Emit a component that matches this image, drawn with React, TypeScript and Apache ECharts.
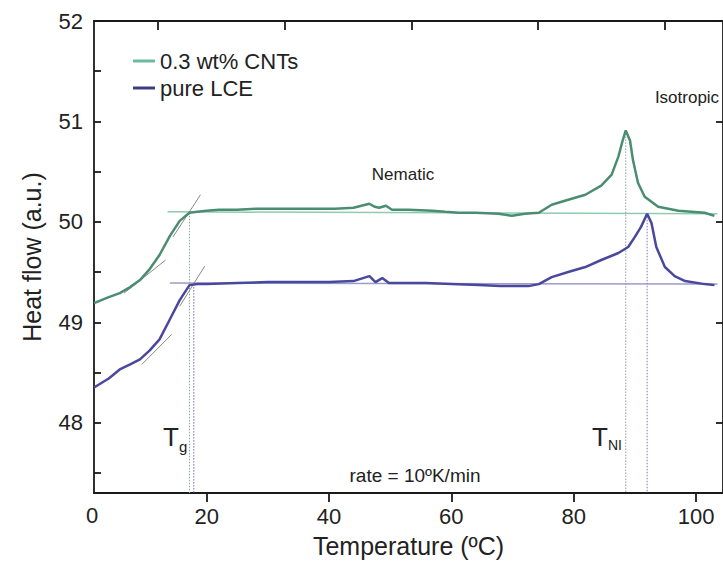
import React, { useEffect, useRef } from "react";
import * as echarts from "echarts";

// ---- data ----
const cntX = [1.6, 4.0, 5.8, 7.5, 9.1, 10.7, 12.3, 14.0, 15.6, 17.2, 18.5, 20, 22, 25, 28, 31, 35, 38, 41, 44, 46.6, 47.5, 48.2, 49.3, 50.3, 53, 56.9, 59, 61.2, 64, 67.7, 69.9, 72, 74.3, 76.4, 79.1, 81.9, 84.5, 86.2, 87.3, 88.0, 88.5, 89.2, 89.7, 90.5, 91.6, 93.8, 97.1, 101.4, 103.0];
const cntY = [49.19, 49.25, 49.29, 49.35, 49.42, 49.53, 49.67, 49.86, 50.01, 50.09, 50.1, 50.11, 50.12, 50.12, 50.13, 50.13, 50.13, 50.13, 50.13, 50.14, 50.18, 50.15, 50.14, 50.16, 50.12, 50.12, 50.11, 50.1, 50.09, 50.09, 50.08, 50.06, 50.08, 50.09, 50.17, 50.22, 50.27, 50.36, 50.47, 50.65, 50.81, 50.91, 50.81, 50.61, 50.39, 50.25, 50.15, 50.11, 50.09, 50.06];

const lceX = [1.6, 4.0, 5.8, 7.5, 9.1, 10.7, 12.3, 14.0, 15.6, 17.2, 18.5, 20, 25, 30, 35, 40, 44, 46.6, 47.6, 48.7, 49.8, 55.8, 60, 64.5, 68, 72.6, 74.3, 76.4, 79.1, 81.9, 84.5, 87.3, 88.9, 90.0, 91.0, 92.0, 92.7, 93.5, 94.9, 96.5, 98.2, 101.4, 103.0];
const lceY = [48.35, 48.44, 48.53, 48.58, 48.63, 48.72, 48.83, 49.03, 49.22, 49.37, 49.38, 49.38, 49.39, 49.4, 49.4, 49.4, 49.41, 49.46, 49.4, 49.44, 49.39, 49.39, 49.38, 49.37, 49.36, 49.36, 49.38, 49.45, 49.5, 49.55, 49.62, 49.69, 49.75, 49.85, 49.95, 50.08, 49.99, 49.75, 49.55, 49.46, 49.41, 49.38, 49.37];

// baselines
const cntBaseX = [13.6, 103.5];
const cntBaseY = [50.1, 50.08];
const lceBaseX = [14.0, 103.5];
const lceBaseY = [49.39, 49.38];

// tangent construction lines
const cntTanLowX = [6.5, 13.3];
const cntTanLowY = [49.29, 49.62];
const cntTanHighX = [14.5, 19.0];
const cntTanHighY = [49.85, 50.27];
const lceTanLowX = [9.4, 14.3];
const lceTanLowY = [48.58, 48.88];
const lceTanHighX = [15.6, 19.7];
const lceTanHighY = [49.16, 49.56];

// transition markers (x position, top value)
const tgCntX = 17.2;
const tgCntTop = 50.09;
const tgLceX = 17.9;
const tgLceTop = 49.38;
const tniCntX = 88.5;
const tniCntTop = 50.91;
const tniLceX = 92.0;
const tniLceTop = 50.08;

// axes
const X_MIN = 1.59;
const X_MAX = 104.4;
const Y_MIN = 47.3;
const Y_MAX = 52;
const xTickLabels = [20, 40, 60, 80, 100];
const xTopTicks = [12.0, 32.7, 53.5, 74.2, 94.9];
const yTickValues = [47.5, 48, 48.5, 49, 49.5, 50, 50.5, 51, 51.5, 52];
const yTickLabels = [48, 49, 50, 51, 52];
const yRightTicks = [48, 49, 50, 51, 52];

const FONT = "'Liberation Sans', Arial, Helvetica, sans-serif";
const TXT = "#222";
const AX = "#1a1a1a";

const zip = (xs: number[], ys: number[]) => xs.map((x, i) => [x, ys[i]]);

export default function App() {
  const ref = useRef<HTMLDivElement>(null);
  useEffect(() => {
    if (!ref.current) return;
    const chart = echarts.init(ref.current, undefined, { renderer: "svg" });
    const thin = (name: string, xs: number[], ys: number[], color: string, width = 1, type: any = "solid") => ({
      name,
      type: "line",
      data: zip(xs, ys),
      showSymbol: false,
      symbol: "none",
      silent: true,
      lineStyle: { color, width, type },
      z: 1,
    });
    const option: any = {
      animation: false,
      backgroundColor: "#fff",
      grid: { left: 94, right: -2, top: 21, bottom: 71, containLabel: false },
      legend: {
        orient: "vertical",
        left: 128,
        top: 44,
        icon: "rect",
        itemWidth: 22,
        itemHeight: 3,
        itemGap: 3,
        selectedMode: false,
        textStyle: { fontSize: 22, color: TXT, fontFamily: FONT, lineHeight: 24 },
        data: [
          { name: "0.3 wt% CNTs", itemStyle: { color: "#6dbb9e" } },
          { name: "pure LCE", itemStyle: { color: "#3f3d80" } },
        ],
      },
      xAxis: [
        {
          type: "value",
          position: "bottom",
          min: X_MIN,
          max: X_MAX,
          name: "Temperature (ºC)",
          nameLocation: "middle",
          nameGap: 40,
          nameTextStyle: { fontSize: 25, color: TXT, fontFamily: FONT },
          axisLine: { show: true, lineStyle: { color: AX, width: 1.8 } },
          axisTick: { show: true, customValues: xTickLabels, length: 9, lineStyle: { color: AX, width: 1.8 } },
          axisLabel: { customValues: xTickLabels, fontSize: 22, color: TXT, fontFamily: FONT, margin: 12 },
          splitLine: { show: false },
        },
        {
          type: "value",
          position: "top",
          min: X_MIN,
          max: X_MAX,
          axisLine: { show: true, lineStyle: { color: AX, width: 1.8 } },
          axisTick: { show: true, inside: true, customValues: xTopTicks, length: 9, lineStyle: { color: AX, width: 1.8 } },
          axisLabel: { show: false },
          splitLine: { show: false },
        },
      ],
      yAxis: [
        {
          type: "value",
          position: "left",
          min: Y_MIN,
          max: Y_MAX,
          name: "Heat flow (a.u.)",
          nameLocation: "middle",
          nameGap: 50,
          nameTextStyle: { fontSize: 25, color: TXT, fontFamily: FONT },
          axisLine: { show: true, lineStyle: { color: AX, width: 1.8 } },
          axisTick: { show: true, inside: true, customValues: yTickValues, length: 7, lineStyle: { color: AX, width: 1.8 } },
          axisLabel: { customValues: yTickLabels, fontSize: 22, color: TXT, fontFamily: FONT, margin: 11 },
          splitLine: { show: false },
        },
        {
          type: "value",
          position: "right",
          min: Y_MIN,
          max: Y_MAX,
          axisLine: { show: true, lineStyle: { color: AX, width: 1.8 } },
          axisTick: { show: true, inside: true, customValues: yRightTicks, length: 7, lineStyle: { color: AX, width: 1.8 } },
          axisLabel: { show: false },
          splitLine: { show: false },
        },
      ],
      series: [
        thin("cntBase", cntBaseX, cntBaseY, "#8fcab2", 1.5),
        thin("lceBase", lceBaseX, lceBaseY, "#9d9bc9", 1.5),
        thin("t1", cntTanLowX, cntTanLowY, "#8a8a8a", 1),
        thin("t2", cntTanHighX, cntTanHighY, "#8a8a8a", 1),
        thin("t3", lceTanLowX, lceTanLowY, "#8a8a8a", 1),
        thin("t4", lceTanHighX, lceTanHighY, "#8a8a8a", 1),
        thin("d1", [tgCntX, tgCntX], [tgCntTop, Y_MIN], "#8fa89c", 1, [1.5, 1.5]),
        thin("d2", [tgLceX, tgLceX], [tgLceTop, Y_MIN], "#6f6fb5", 1, [1.5, 1.5]),
        thin("d3", [tniCntX, tniCntX], [tniCntTop, Y_MIN], "#8fa0a0", 1, [1.5, 1.5]),
        thin("d4", [tniLceX, tniLceX], [tniLceTop, Y_MIN], "#7b7bb0", 1, [1.5, 1.5]),
        {
          name: "0.3 wt% CNTs",
          type: "line",
          data: zip(cntX, cntY),
          showSymbol: false,
          symbol: "none",
          lineStyle: { color: "#4b8d70", width: 2.5 },
          itemStyle: { color: "#4b8d70" },
          z: 3,
        },
        {
          name: "pure LCE",
          type: "line",
          data: zip(lceX, lceY),
          showSymbol: false,
          symbol: "none",
          lineStyle: { color: "#4a489c", width: 2.5 },
          itemStyle: { color: "#4a489c" },
          z: 3,
        },
      ],
      graphic: [
        { type: "text", x: 92, y: 515, style: { text: "0", fontSize: 22, fill: TXT, fontFamily: FONT, align: "center", verticalAlign: "middle" } },
        { type: "text", x: 403, y: 174, style: { text: "Nematic", fontSize: 17, fill: TXT, fontFamily: FONT, align: "center", verticalAlign: "middle" } },
        { type: "text", x: 687, y: 97, style: { text: "Isotropic", fontSize: 17, fill: TXT, fontFamily: FONT, align: "center", verticalAlign: "middle" } },
        { type: "text", x: 415, y: 475, style: { text: "rate = 10ºK/min", fontSize: 19, fill: TXT, fontFamily: FONT, align: "center", verticalAlign: "middle" } },
        { type: "text", x: 171, y: 437, style: { text: "T", fontSize: 26, fill: TXT, fontFamily: FONT, align: "center", verticalAlign: "middle" } },
        { type: "text", x: 179, y: 446, style: { text: "g", fontSize: 15, fill: TXT, fontFamily: FONT, align: "left", verticalAlign: "middle" } },
        { type: "text", x: 600, y: 437, style: { text: "T", fontSize: 26, fill: TXT, fontFamily: FONT, align: "center", verticalAlign: "middle" } },
        { type: "text", x: 608, y: 445, style: { text: "NI", fontSize: 14, fill: TXT, fontFamily: FONT, align: "left", verticalAlign: "middle" } },
      ],
    };
    chart.setOption(option);
    return () => chart.dispose();
  }, []);
  return (
    <div
      ref={ref}
      style={{ position: "fixed", left: 0, top: 0, width: 723, height: 564, background: "#fff" }}
    />
  );
}
